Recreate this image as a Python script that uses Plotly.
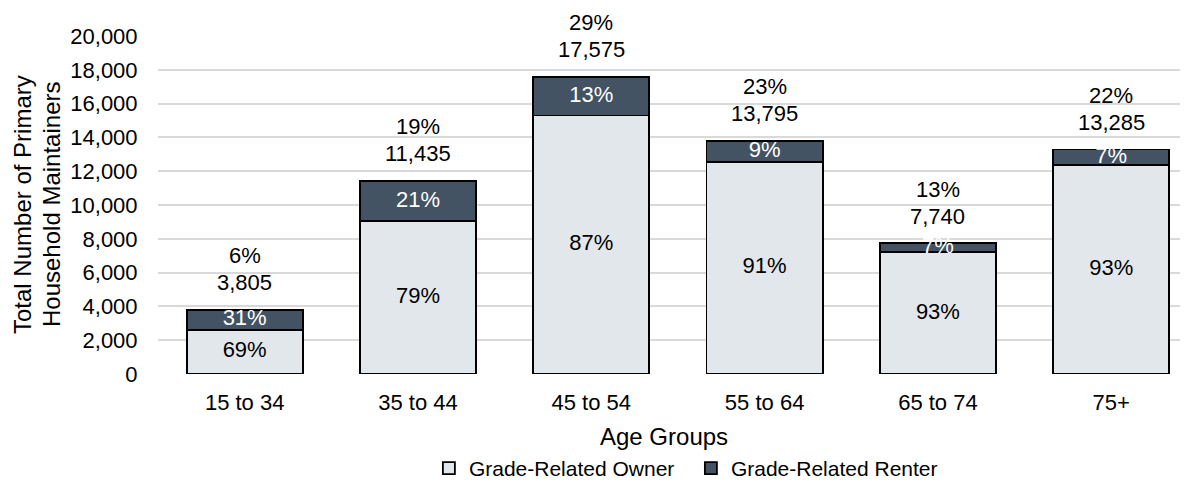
import plotly.graph_objects as go

categories = ["15 to 34", "35 to 44", "45 to 54", "55 to 64", "65 to 74", "75+"]
totals = [3805, 11435, 17575, 13795, 7740, 13285]
share_of_total = [6, 19, 29, 23, 13, 22]
owner_pct = [69, 79, 87, 91, 93, 93]
renter_pct = [31, 21, 13, 9, 7, 7]
y_ticks = [0, 2000, 4000, 6000, 8000, 10000, 12000, 14000, 16000, 18000, 20000]

owner_vals = [t * p / 100 for t, p in zip(totals, owner_pct)]
renter_vals = [t - o for t, o in zip(totals, owner_vals)]

FONT = "Liberation Sans, Arial, sans-serif"
FS = 22
TFS = 24
LFS = 21
OWNER_C = "#E2E7EC"
RENTER_C = "#435363"

fig = go.Figure()
fig.add_trace(go.Bar(x=categories, y=owner_vals, name="Grade-Related Owner",
                     marker=dict(color=OWNER_C, line=dict(color="#000000", width=1.8)),
                     hoverinfo="skip"))
fig.add_trace(go.Bar(x=categories, y=renter_vals, name="Grade-Related Renter",
                     marker=dict(color=RENTER_C, line=dict(color="#000000", width=1.8)),
                     hoverinfo="skip"))

# in-bar labels
fig.add_trace(go.Scatter(x=categories, y=[o / 2 for o in owner_vals], mode="text",
                         text=[f"{p}%" for p in owner_pct], textposition="middle center",
                         textfont=dict(family=FONT, size=FS, color="#000000"),
                         showlegend=False, cliponaxis=False, hoverinfo="skip"))
fig.add_trace(go.Scatter(x=categories, y=[o + r / 2 for o, r in zip(owner_vals, renter_vals)],
                         mode="text", text=[f"{p}%" for p in renter_pct],
                         textposition="middle center",
                         textfont=dict(family=FONT, size=FS, color="#FFFFFF"),
                         showlegend=False, cliponaxis=False, hoverinfo="skip"))

# total labels above bars
for c, t, s in zip(categories, totals, share_of_total):
    fig.add_annotation(x=c, y=t, xref="x", yref="y", text=f"{t:,}",
                       showarrow=False, yanchor="middle", yshift=27,
                       font=dict(family=FONT, size=FS, color="#000000"))
    fig.add_annotation(x=c, y=t, xref="x", yref="y", text=f"{s}%",
                       showarrow=False, yanchor="middle", yshift=54,
                       font=dict(family=FONT, size=FS, color="#000000"))

# y axis title (two lines)
fig.add_annotation(x=0, y=0.5, xref="paper", yref="paper", xshift=-136,
                   text="Total Number of Primary",
                   textangle=-90, showarrow=False, xanchor="center", yanchor="middle",
                   font=dict(family=FONT, size=TFS, color="#000000"))
fig.add_annotation(x=0, y=0.5, xref="paper", yref="paper", xshift=-107,
                   text="Household Maintainers",
                   textangle=-90, showarrow=False, xanchor="center", yanchor="middle",
                   font=dict(family=FONT, size=TFS, color="#000000"))
# x axis title
fig.add_annotation(x=0.491, y=0, xref="paper", yref="paper", yshift=-62,
                   text="Age Groups", showarrow=False, xanchor="center", yanchor="middle",
                   font=dict(family=FONT, size=TFS, color="#000000"))

fig.update_layout(
    width=1180, height=481,
    margin=dict(l=150, r=0, t=28, b=114),
    paper_bgcolor="white", plot_bgcolor="white",
    barmode="stack", bargap=0.33,
    font=dict(family=FONT, size=FS, color="#000000"),
    showlegend=True,
    legend=dict(orientation="h", x=0.263, xanchor="left", y=-0.28, yanchor="middle",
                yref="paper", entrywidth=217, entrywidthmode="pixels",
                font=dict(family=FONT, size=LFS, color="#000000"),
                bgcolor="rgba(0,0,0,0)", traceorder="normal"),
)
fig.update_xaxes(range=[-0.5, 5.443], showgrid=False, zeroline=False, showline=False,
                 ticks="outside", ticklen=9, tickcolor="rgba(0,0,0,0)",
                 tickfont=dict(family=FONT, size=FS, color="#000000"))
fig.update_yaxes(range=[0, 20000], tickvals=y_ticks, tickformat=",", showgrid=True,
                 gridcolor="#D9D9D9", gridwidth=1.5, zeroline=False, showline=False,
                 ticks="outside", ticklen=15, tickcolor="rgba(0,0,0,0)",
                 tickfont=dict(family=FONT, size=FS, color="#000000"))

fig.write_html("out.html")
